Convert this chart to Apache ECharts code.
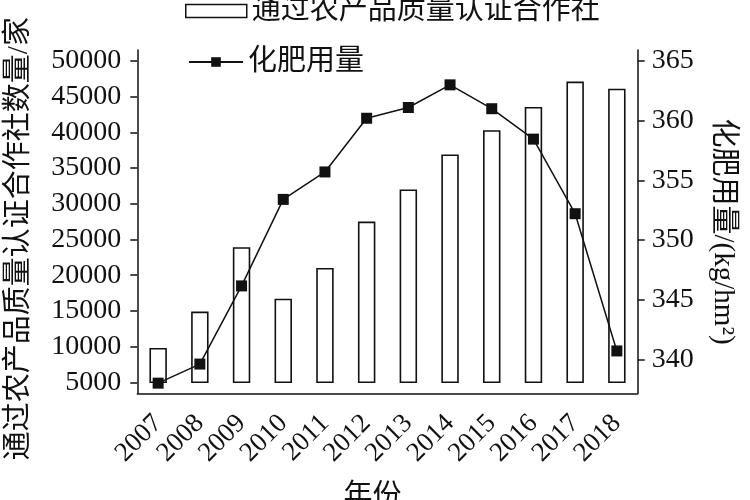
<!DOCTYPE html>
<html>
<head>
<meta charset="utf-8">
<script src="https://cdn.jsdelivr.net/npm/echarts@6/dist/echarts.min.js"></script>
<style>html,body{margin:0;padding:0;background:#fff}#c{width:750px;height:500px}</style>
</head>
<body>
<div id="c"></div>
<script>
const years = ['2007','2008','2009','2010','2011','2012','2013','2014','2015','2016','2017','2018'];
const coopCounts = [9700, 14800, 23800, 16600, 20900, 27400, 31900, 36800, 40200, 43450, 47000, 46000];
const fertilizer = [338.0, 339.6, 346.15, 353.4, 355.7, 360.2, 361.1, 363.0, 361.0, 358.45, 352.2, 340.7];
const leftTicks = [5000, 10000, 15000, 20000, 25000, 30000, 35000, 40000, 45000, 50000];
const rightTicks = [340, 345, 350, 355, 360, 365];
const barBase = 5000;
const coopName = '通过农产品质量认证合作社';
const fertName = '化肥用量';

const serif = '"Liberation Serif", "Noto Sans CJK SC", serif';
const ink = '#111';
const plain = v => String(v);
const chart = echarts.init(document.getElementById('c'), null, {renderer: 'canvas'});
chart.setOption({
  backgroundColor: '#fff',
  animation: false,
  textStyle: {fontFamily: serif, color: ink},
  grid: {left: 137.3, right: 112.3, top: 50, bottom: 106.7, containLabel: false, outerBoundsMode: 'none'},
  legend: [
    {
      data: [{name: coopName, icon: 'rect', itemStyle: {color: '#fff', borderColor: ink, borderWidth: 1.5}}],
      left: 185, top: -4, padding: 0, itemWidth: 61, itemHeight: 13,
      textStyle: {fontSize: 29, fontFamily: serif, color: ink, lineHeight: 30}
    },
    {
      data: [{name: fertName}],
      left: 188, top: 47, padding: 0, itemWidth: 54, itemHeight: 12,
      textStyle: {fontSize: 29, fontFamily: serif, color: ink, lineHeight: 30}
    }
  ],
  xAxis: {
    type: 'category',
    data: years,
    boundaryGap: true,
    name: '年份',
    nameLocation: 'middle',
    nameGap: 90,
    nameTextStyle: {fontSize: 29, color: ink, verticalAlign: 'top', padding: [0, 30, 0, 0]},
    axisLine: {lineStyle: {color: ink, width: 1.5}},
    axisTick: {alignWithLabel: true, inside: false, length: 7, lineStyle: {color: ink, width: 1.5}},
    axisLabel: {rotate: 45, interval: 0, fontSize: 27, color: ink, margin: 26, fontFamily: serif},
    splitLine: {show: false}
  },
  yAxis: [
    {
      type: 'value',
      min: 3460, max: 51540,
      name: coopName + '数量/家',
      nameLocation: 'middle',
      nameGap: 103,
      nameTextStyle: {fontSize: 29, color: ink, padding: [0, 34, 0, 0]},
      axisLine: {show: true, lineStyle: {color: ink, width: 1.5}},
      axisTick: {show: true, length: 7, lineStyle: {color: ink, width: 1.5}, customValues: leftTicks},
      axisLabel: {fontSize: 28, color: ink, margin: 16, fontFamily: serif, formatter: plain, customValues: leftTicks},
      splitLine: {show: false}
    },
    {
      type: 'value',
      position: 'right',
      min: 337.15, max: 365.92,
      name: '化肥用量/(kg/hm²)',
      nameLocation: 'middle',
      nameRotate: -90,
      nameGap: 70,
      nameTextStyle: {fontSize: 29, color: ink, padding: [0, 0, 0, 20]},
      axisLine: {show: true, lineStyle: {color: ink, width: 1.5}},
      axisTick: {show: true, length: 7, lineStyle: {color: ink, width: 1.5}, customValues: rightTicks},
      axisLabel: {fontSize: 28, color: ink, margin: 14, fontFamily: serif, formatter: plain, customValues: rightTicks},
      splitLine: {show: false}
    }
  ],
  series: [
    {
      name: coopName,
      type: 'custom',
      yAxisIndex: 0,
      itemStyle: {color: '#fff', borderColor: ink},
      data: years.map((y, i) => [y, coopCounts[i]]),
      encode: {x: 0, y: 1},
      renderItem: function (params, api) {
        const idx = api.value(0);
        const top = api.coord([idx, api.value(1)]);
        const bot = api.coord([idx, barBase]);
        const w = api.size([1, 0])[0] * 0.38;
        return {
          type: 'rect',
          shape: {x: top[0] - w / 2, y: top[1], width: w, height: bot[1] - top[1]},
          style: {fill: '#fff', stroke: ink, lineWidth: 1.6}
        };
      },
      z: 2
    },
    {
      name: fertName,
      type: 'line',
      yAxisIndex: 1,
      data: fertilizer,
      symbol: 'rect',
      symbolSize: 11,
      itemStyle: {color: ink},
      lineStyle: {color: ink, width: 1.5},
      z: 3
    }
  ]
});
</script>
</body>
</html>
